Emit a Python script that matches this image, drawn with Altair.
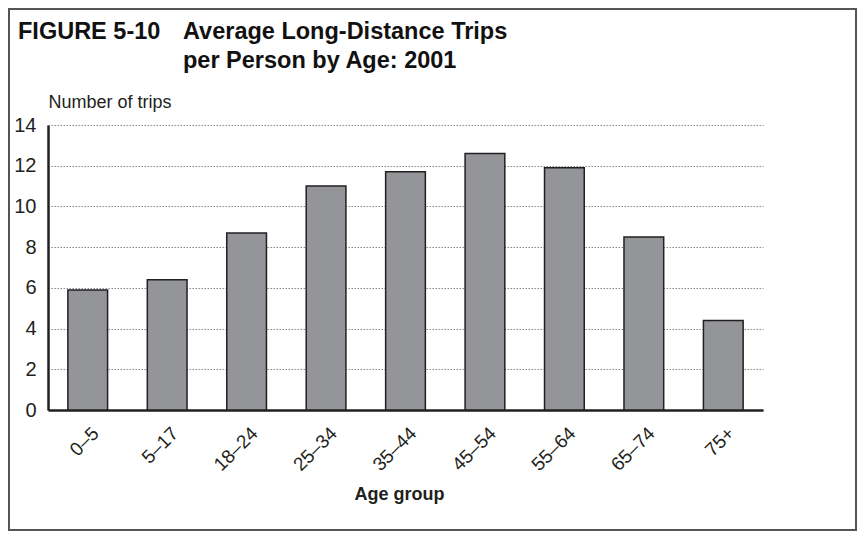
import altair as alt
import pandas as pd

age_groups = ["0–5", "5–17", "18–24", "25–34", "35–44", "45–54", "55–64", "65–74", "75+"]
trips = [5.9, 6.4, 8.7, 11.0, 11.7, 12.6, 11.9, 8.5, 4.4]
y_ticks = [0, 2, 4, 6, 8, 10, 12, 14]

fig_label = "FIGURE 5-10"
title_lines = ["Average Long-Distance Trips", "per Person by Age: 2001"]
y_title = "Number of trips"
x_title = "Age group"

df = pd.DataFrame({"age": age_groups, "trips": trips})

W, H = 715, 285
PAD = {"left": 40, "top": 117, "right": 94, "bottom": 121}

SANS = "Liberation Sans, Arial, Helvetica, sans-serif"
INK = "#231f20"

bars = alt.Chart(df).mark_bar(
    color="#939598", stroke=INK, strokeWidth=1.5
).encode(
    x=alt.X("age:N", sort=age_groups,
            scale=alt.Scale(paddingInner=0.5, paddingOuter=0.25),
            axis=alt.Axis(title=x_title, labelAngle=-45, labelAlign="right",
                          labelBaseline="middle", labelPadding=20, labelOffset=8,
                          ticks=False, tickSize=0,
                          domainColor=INK, domainWidth=2.5,
                          labelFont=SANS, labelFontSize=19, labelColor=INK,
                          titleFont=SANS, titleFontSize=18, titleFontWeight="bold",
                          titleColor=INK, titleX=351, titleY=89,
                          titleBaseline="alphabetic", titleAlign="center")),
    y=alt.Y("trips:Q", scale=alt.Scale(domain=[0, 14], nice=False),
            axis=alt.Axis(title=y_title, values=y_ticks, ticks=False, tickSize=0,
                          labelPadding=12, domainColor=INK, domainWidth=2.5,
                          grid=True, gridColor="#8a8a8a", gridDash=[1.5, 1.5], gridWidth=1,
                          labelFont=SANS, labelFontSize=20, labelColor=INK,
                          titleFont=SANS, titleFontSize=18, titleFontWeight="normal",
                          titleColor=INK, titleAngle=0, titleAlign="left",
                          titleBaseline="alphabetic", titleX=0, titleY=-18)),
)

one = pd.DataFrame({"k": [0]})

def title_text(txt, x, y):
    return alt.Chart(one).mark_text(
        text=txt, font=SANS, fontSize=23.5, fontWeight="bold", align="left",
        baseline="alphabetic", color="#111111"
    ).encode(x=alt.value(x), y=alt.value(y))

fig_txt = title_text(fig_label, -30, -86)
t1 = title_text(title_lines[0], 135, -86)
t2 = title_text(title_lines[1], 135, -57)

frame = alt.Chart(one).mark_rect(
    fillOpacity=0, stroke="#555555", strokeWidth=2
).encode(x=alt.value(-39), x2=alt.value(W + PAD["right"] - 1),
         y=alt.value(-PAD["top"] + 1), y2=alt.value(H + PAD["bottom"] - 1))

chart = alt.layer(frame, bars, fig_txt, t1, t2).properties(
    width=W, height=H, padding=PAD,
    autosize=alt.AutoSizeParams(type="none"),
    background="white",
).configure_view(stroke=None)

chart.save("out.html", embed_options={"renderer": "svg", "actions": False})
